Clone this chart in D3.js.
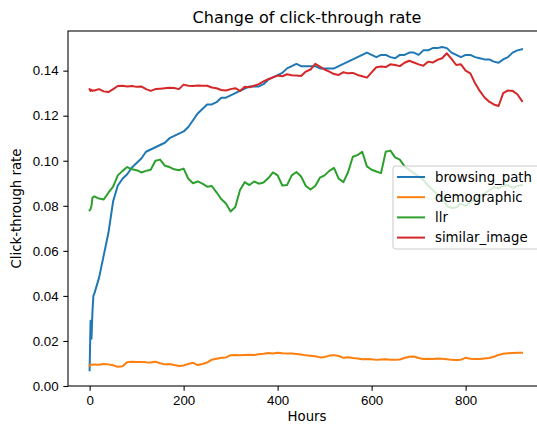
<!DOCTYPE html>
<html lang="en">
<head>
    <meta charset="UTF-8">
    <title>Change of click-through rate</title>
    <script src="https://d3js.org/d3.v7.min.js"></script>
    <style>
        body { margin: 0; background: #fff; }
        svg { display: block; font-family: "DejaVu Sans", sans-serif; }
        .line { fill: none; stroke-width: 2; stroke-linejoin: round; stroke-linecap: square; }
        .tick text { font-size: 13.3px; fill: #000; }
        .tick line { stroke: #000; stroke-width: 1.07; }
        .domain { display: none; }
    </style>
</head>
<body>
<script>
    const width = 537;
    const height = 425;

    const hours = [0, 2, 4, 6, 8, 10, 20, 30, 40, 50, 60, 70, 80, 90,
        100, 110, 120, 130, 140, 150, 160, 170, 180, 190,
        200, 210, 220, 230, 240, 250, 260, 270, 280, 290,
        300, 310, 320, 330, 340, 350, 360, 370, 380, 390,
        400, 410, 420, 430, 440, 450, 460, 470, 480, 490,
        500, 510, 520, 530, 540, 550, 560, 570, 580, 590,
        600, 610, 620, 630, 640, 650, 660, 670, 680, 690,
        700, 710, 720, 730, 740, 750, 760, 770, 780, 790,
        800, 810, 820, 830, 840, 850, 860, 870, 880, 890,
        900, 910, 920];

    const browsingPath = [0.007, 0.029, 0.021, 0.033, 0.040, 0.041, 0.048, 0.058, 0.068, 0.082, 0.089, 0.092, 0.094, 0.097,
        0.099, 0.101, 0.104, 0.105, 0.106, 0.107, 0.108, 0.110, 0.111, 0.112,
        0.113, 0.115, 0.118, 0.121, 0.123, 0.125, 0.125, 0.126, 0.128, 0.128,
        0.129, 0.130, 0.131, 0.132, 0.133, 0.133, 0.133, 0.134, 0.136, 0.137,
        0.138, 0.139, 0.141, 0.142, 0.143, 0.142, 0.142, 0.142, 0.142, 0.141,
        0.141, 0.141, 0.141, 0.142, 0.143, 0.144, 0.145, 0.146, 0.147, 0.148,
        0.147, 0.146, 0.147, 0.147, 0.146, 0.1455, 0.147, 0.147, 0.148, 0.148,
        0.147, 0.149, 0.149, 0.150, 0.150, 0.1505, 0.150, 0.148, 0.147, 0.146,
        0.147, 0.147, 0.146, 0.1455, 0.145, 0.145, 0.144, 0.1435, 0.145, 0.146,
        0.148, 0.149, 0.1495];

    const demographic = [0.0090, 0.0094, 0.0095, 0.0094, 0.0095, 0.0095, 0.0094, 0.0098, 0.0096, 0.0092, 0.0085, 0.0088, 0.0106, 0.0108,
        0.0107, 0.0107, 0.0105, 0.0104, 0.0108, 0.0101, 0.0096, 0.0098, 0.0093, 0.0089,
        0.0091, 0.0098, 0.0103, 0.0093, 0.0098, 0.0104, 0.0117, 0.0121, 0.0125, 0.0127,
        0.0137, 0.0138, 0.0137, 0.0138, 0.0139, 0.0138, 0.0141, 0.0143, 0.0146, 0.0144,
        0.0148, 0.0145, 0.0144, 0.0144, 0.0142, 0.0140, 0.0136, 0.0134, 0.0132, 0.0127,
        0.0129, 0.0135, 0.0137, 0.0133, 0.0125, 0.0128, 0.0124, 0.0122, 0.0119, 0.0120,
        0.0119, 0.0116, 0.0118, 0.0119, 0.0117, 0.0116, 0.0118, 0.0124, 0.0130, 0.0131,
        0.0124, 0.0120, 0.0121, 0.0120, 0.0122, 0.0121, 0.0119, 0.0116, 0.0115, 0.0117,
        0.0125, 0.0121, 0.0120, 0.0120, 0.0122, 0.0124, 0.0130, 0.0138, 0.0143, 0.0145,
        0.0147, 0.0148, 0.0148];

    const llr = [0.078, 0.0785, 0.080, 0.0835, 0.084, 0.0842, 0.0832, 0.0828, 0.0858, 0.0885, 0.0935, 0.0955, 0.0972, 0.0962,
        0.0958, 0.0948, 0.0955, 0.0960, 0.1000, 0.1005, 0.0978, 0.0972, 0.0962, 0.0958,
        0.0965, 0.0920, 0.0900, 0.0908, 0.0898, 0.0885, 0.0888, 0.0860, 0.0830, 0.0810,
        0.0775, 0.0795, 0.0870, 0.0905, 0.0892, 0.0908, 0.0898, 0.0903, 0.0922, 0.0948,
        0.0935, 0.0890, 0.0892, 0.0935, 0.0950, 0.0930, 0.0888, 0.0872, 0.0888, 0.0925,
        0.0935, 0.0955, 0.0968, 0.0920, 0.0905, 0.0950, 0.1018, 0.1025, 0.1040, 0.0975,
        0.0960, 0.0952, 0.0945, 0.1040, 0.1045, 0.1015, 0.1005, 0.0975, 0.0960, 0.0945,
        0.0930, 0.0915, 0.0890, 0.0870, 0.0850, 0.0838, 0.0800, 0.0790, 0.0792, 0.0810,
        0.0800, 0.0815, 0.0825, 0.0840, 0.0855, 0.0868, 0.0882, 0.0878, 0.0888, 0.0892,
        0.0880, 0.0888, 0.0892];

    const similarImage = [0.1318, 0.1310, 0.1315, 0.1310, 0.1312, 0.1312, 0.1318, 0.1308, 0.1305, 0.1318, 0.1332, 0.1333, 0.1330, 0.1332,
        0.1328, 0.1330, 0.1318, 0.1310, 0.1318, 0.1320, 0.1322, 0.1324, 0.1323, 0.1318,
        0.1338, 0.1333, 0.1332, 0.1334, 0.1333, 0.1333, 0.1325, 0.1322, 0.1314, 0.1312,
        0.1318, 0.1322, 0.1310, 0.1328, 0.1326, 0.1333, 0.1340, 0.1352, 0.1362, 0.1370,
        0.1378, 0.1375, 0.1384, 0.1380, 0.1378, 0.1376, 0.1396, 0.1405, 0.1430, 0.1418,
        0.1405, 0.1396, 0.1385, 0.1381, 0.1393, 0.1388, 0.1390, 0.1381, 0.1375, 0.1369,
        0.1392, 0.1415, 0.1418, 0.1416, 0.1428, 0.1425, 0.1420, 0.1435, 0.1444, 0.1436,
        0.1428, 0.1422, 0.1440, 0.1436, 0.1448, 0.1455, 0.1477, 0.1452, 0.1425, 0.1428,
        0.1400, 0.1388, 0.1345, 0.1310, 0.1282, 0.1262, 0.1250, 0.1243, 0.1300, 0.1312,
        0.1310, 0.1295, 0.1265];

    const seriesNames = ["browsing_path", "demographic", "llr", "similar_image"];
    const seriesColors = ["#1f77b4", "#ff7f0e", "#2ca02c", "#d62728"];
    const seriesValues = [browsingPath, demographic, llr, similarImage];

    const xTicks = [0, 200, 400, 600, 800];
    const yTicks = [0, 0.02, 0.04, 0.06, 0.08, 0.10, 0.12, 0.14];

    const margin = {left: 68, top: 31};
    const plotW = 478, plotH = 355;

    const svg = d3.select("body").append("svg")
        .attr("width", width).attr("height", height);

    const x = d3.scaleLinear().domain([-46, 971]).range([margin.left, margin.left + plotW]);
    const y = d3.scaleLinear().domain([0, 0.1576]).range([margin.top + plotH, margin.top]);

    // lines
    const line = d3.line()
        .x((d, i) => x(hours[i]))
        .y(d => y(d));

    svg.selectAll("path.line")
        .data(seriesValues)
        .enter()
        .append("path")
        .attr("class", "line")
        .attr("stroke", (d, i) => seriesColors[i])
        .attr("d", line);

    // frame
    svg.append("rect")
        .attr("x", margin.left).attr("y", margin.top)
        .attr("width", plotW).attr("height", plotH)
        .attr("fill", "none").attr("stroke", "#000").attr("stroke-width", 1.07);

    // axes
    svg.append("g")
        .attr("transform", `translate(0,${margin.top + plotH})`)
        .call(d3.axisBottom(x).tickValues(xTicks).tickSize(4.7).tickPadding(4.7).tickFormat(d3.format("d")));

    svg.append("g")
        .attr("transform", `translate(${margin.left},0)`)
        .call(d3.axisLeft(y).tickValues(yTicks).tickSize(4.7).tickPadding(4.7).tickFormat(d3.format(".2f")));

    // labels
    svg.append("text")
        .attr("x", x(-46) + plotW / 2).attr("y", 23)
        .attr("text-anchor", "middle")
        .style("font-size", "16px")
        .text("Change of click-through rate");

    svg.append("text")
        .attr("x", margin.left + plotW / 2).attr("y", 421)
        .attr("text-anchor", "middle")
        .style("font-size", "13.3px")
        .text("Hours");

    svg.append("text")
        .attr("transform", `translate(21,${margin.top + plotH / 2}) rotate(-90)`)
        .attr("text-anchor", "middle")
        .style("font-size", "13.3px")
        .text("Click-through rate");

    // legend
    const legend = svg.append("g").attr("transform", "translate(393,166)");
    legend.append("rect")
        .attr("width", 147).attr("height", 83)
        .attr("rx", 2.7)
        .attr("fill", "#fff").attr("fill-opacity", 0.8)
        .attr("stroke", "#ccc").attr("stroke-width", 1.07);

    const items = legend.selectAll("g.item")
        .data(seriesNames)
        .enter()
        .append("g")
        .attr("class", "item")
        .attr("transform", (d, i) => `translate(0,${11 + i * 20.2})`);

    items.append("line")
        .attr("x1", 4).attr("x2", 32)
        .attr("stroke", (d, i) => seriesColors[i])
        .attr("stroke-width", 2);

    items.append("text")
        .attr("x", 42).attr("dy", "0.35em")
        .style("font-size", "13.3px")
        .text(d => d);
</script>
</body>
</html>
